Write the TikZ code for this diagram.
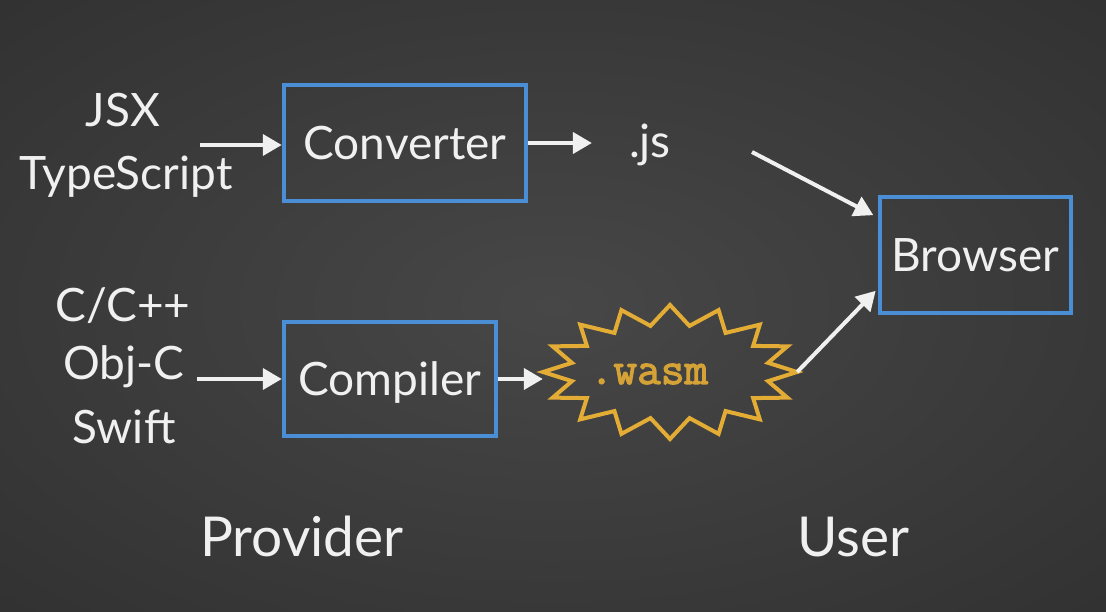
\documentclass[tikz,border=0pt]{standalone}
\usepackage{fontspec}
\setmainfont{Lato}
\newfontfamily\wasmfont{Latin Modern Mono}[FakeBold=2.5]
\usetikzlibrary{arrows.meta}
\definecolor{bgin}{HTML}{474747}
\definecolor{bgout}{HTML}{2C2C2C}
\definecolor{boxblue}{HTML}{4A8FD6}
\definecolor{txt}{HTML}{F0F0F0}
\definecolor{gold}{HTML}{E2AC35}
\definecolor{goldtxt}{HTML}{D4A236}
\pgfdeclareradialshading{bgshade}{\pgfpoint{0bp}{0bp}}{color(0bp)=(bgin); color(45bp)=(bgout); color(80bp)=(bgout)}
\begin{document}
\begin{tikzpicture}[x=1pt,y=-1pt,
  lbl/.style={text=txt,font=\fontsize{46}{50}\selectfont,inner sep=0pt},
  big/.style={text=txt,font=\fontsize{55}{60}\selectfont,inner sep=0pt},
  box/.style={draw=boxblue,line width=4.5pt,text=txt,font=\fontsize{46}{50}\selectfont,
    text height=33pt,text depth=0pt,inner sep=0pt},
  burst/.style={draw=gold,line width=4pt,line join=miter},
  arr/.style={draw=txt,line width=4pt,-{Triangle[length=19pt,width=21pt]}}]
\shade[shading=bgshade] (0,0) rectangle (1106,612);
\useasboundingbox (0,0) rectangle (1106,612);
% sources
\node[lbl,anchor=base] (jsx) at (123,127) {JSX};
\node[lbl,anchor=base] (ts) at (126,190) {TypeScript};
\node[lbl,anchor=base] (cc) at (123,322) {C/C++};
\node[lbl,anchor=base] (objc) at (124,379) {Obj-C};
\node[lbl,anchor=base] (swift) at (124,443) {Swift};
% boxes
\node[box,minimum width=242pt,minimum height=116pt] (conv) at (405,143) {Converter};
\node[box,minimum width=212pt,minimum height=114pt] (comp) at (390,379) {Compiler};
\node[box,minimum width=191pt,minimum height=116pt] (browser) at (975.5,255) {Browser};
\node[lbl,anchor=base] (js) at (650,158) {.js};
% starburst
\begin{scope}[shift={(670,372)}]
\draw[burst] (0:127 and 67)
  \foreach \i in {0,...,14} { -- (\i*22.5+11.25:100 and 47) -- (\i*22.5+22.5:127 and 67) }
  -- (348.75:100 and 47) -- cycle;
\end{scope}
\node[inner sep=0pt,minimum width=254pt,minimum height=134pt] (wasm) at (670,372) {};
\node[anchor=base,inner sep=0pt,text=goldtxt,font=\wasmfont\fontsize{46}{50}\selectfont] (wasmtxt) at (649,384) {.wasm};
% labels
\node[big,anchor=base] (provider) at (302,556) {Provider};
\node[big,anchor=base] (user) at (853,556) {User};
% connectors
\coordinate (a1) at (200,145);
\coordinate (a2) at (752,152);
\draw[arr] (a1) -- (a1 -| conv.west);
\draw[arr,shorten >=37pt] (conv.east) -- (conv.east -| js.west);
\draw[arr] ([xshift=12pt]objc.east |- comp.west) -- (comp.west);
\draw[arr] (comp.east) -- (comp.east -| wasm.west);
\draw[arr,shorten >=5pt] (a2) -- (browser.159);
\draw[arr,shorten >=3pt] (wasm.east) -- (browser.199);
\end{tikzpicture}
\end{document}
